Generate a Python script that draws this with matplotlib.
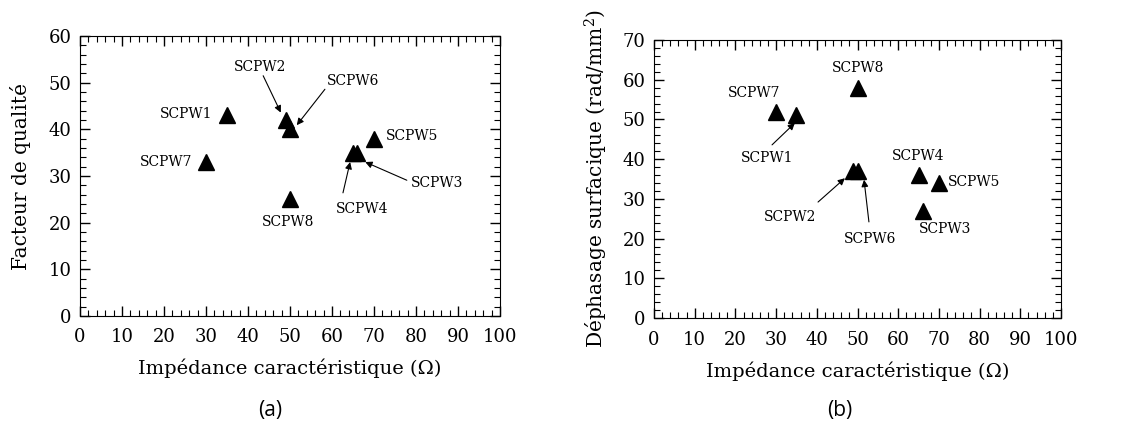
import numpy as np
import matplotlib
matplotlib.use("Agg")
import matplotlib.pyplot as plt
from matplotlib.ticker import MultipleLocator

plt.rcParams['font.family'] = ['DejaVu Serif']
plt.rcParams['mathtext.fontset'] = 'dejavuserif'

# data
names = ["SCPW1", "SCPW2", "SCPW3", "SCPW4", "SCPW5", "SCPW6", "SCPW7", "SCPW8"]
impedance = [35, 49, 66, 65, 70, 50, 30, 50]
quality = [43, 42, 35, 35, 38, 40, 33, 25]
phase = [51, 37, 27, 36, 34, 37, 52, 58]

# label placement: (text x, text y, ha)
labels_a = {
    "SCPW1": (31.5, 43.2, "right"),
    "SCPW2": (42.9, 53.4, "center"),
    "SCPW3": (85.0, 28.5, "center"),
    "SCPW4": (67.1, 22.9, "center"),
    "SCPW5": (72.9, 38.6, "left"),
    "SCPW6": (65.0, 50.4, "center"),
    "SCPW7": (26.8, 33.0, "right"),
    "SCPW8": (49.6, 20.2, "center"),
}
arrows_a = {
    "SCPW2": ((43.6, 51.5), (47.8, 43.6)),
    "SCPW3": ((77.8, 29.1), (67.9, 33.0)),
    "SCPW4": ((62.6, 26.4), (64.3, 33.0)),
    "SCPW6": ((58.3, 48.6), (51.6, 40.9)),
}
labels_b = {
    "SCPW1": (27.8, 40.3, "center"),
    "SCPW2": (33.4, 25.4, "center"),
    "SCPW3": (71.5, 22.4, "center"),
    "SCPW4": (64.9, 40.8, "center"),
    "SCPW5": (72.2, 34.3, "left"),
    "SCPW6": (53.1, 19.9, "center"),
    "SCPW7": (24.6, 56.7, "center"),
    "SCPW8": (50.1, 63.0, "center"),
}
arrows_b = {
    "SCPW1": ((29.0, 43.6), (34.6, 49.1)),
    "SCPW2": ((40.3, 29.2), (46.9, 35.2)),
    "SCPW6": ((52.8, 24.2), (51.6, 34.8)),
}

fig = plt.figure(figsize=(11.37, 4.28), dpi=100)
ax1 = fig.add_axes([0.0704, 0.2617, 0.3694, 0.654])
ax2 = fig.add_axes([0.5752, 0.257, 0.358, 0.6495])


def style(ax, ymax):
    ax.set_xlim(0, 100)
    ax.set_ylim(0, ymax)
    ax.xaxis.set_major_locator(MultipleLocator(10))
    ax.xaxis.set_minor_locator(MultipleLocator(2))
    ax.yaxis.set_major_locator(MultipleLocator(10))
    ax.yaxis.set_minor_locator(MultipleLocator(2))
    ax.tick_params(which='both', direction='in', top=True, right=True,
                   labelsize=13)
    ax.tick_params(axis='x', pad=9)
    ax.tick_params(axis='y', pad=6)
    ax.tick_params(which='major', length=7, width=1)
    ax.tick_params(which='minor', length=4, width=0.8)
    ax.set_xlabel("Impédance caractéristique (Ω)", fontsize=14, labelpad=9)


def draw(ax, yvals, labels, arrows):
    ax.plot(impedance, yvals, '^', color='k', ms=11, ls='none')
    for n in names:
        tx, ty, ha = labels[n]
        ax.text(tx, ty, n, ha=ha, va='center', fontsize=10)
    for n, (start, end) in arrows.items():
        ax.annotate("", xy=end, xytext=start,
                    arrowprops=dict(arrowstyle="-|>", color='k', lw=0.8,
                                    mutation_scale=10, shrinkA=0, shrinkB=0))


style(ax1, 60)
draw(ax1, quality, labels_a, arrows_a)
ax1.set_ylabel("Facteur de qualité", fontsize=14.5, labelpad=13)

style(ax2, 70)
draw(ax2, phase, labels_b, arrows_b)
ax2.set_ylabel("Déphasage surfacique (rad/mm$^2$)", fontsize=14.5, labelpad=9)

fig.text(0.2375, 0.04, "(a)", ha='center', va='center', fontsize=15,
         family='Open Sans')
fig.text(0.739, 0.04, "(b)", ha='center', va='center', fontsize=15,
         family='Open Sans')

fig.savefig("out.png", dpi=100)
